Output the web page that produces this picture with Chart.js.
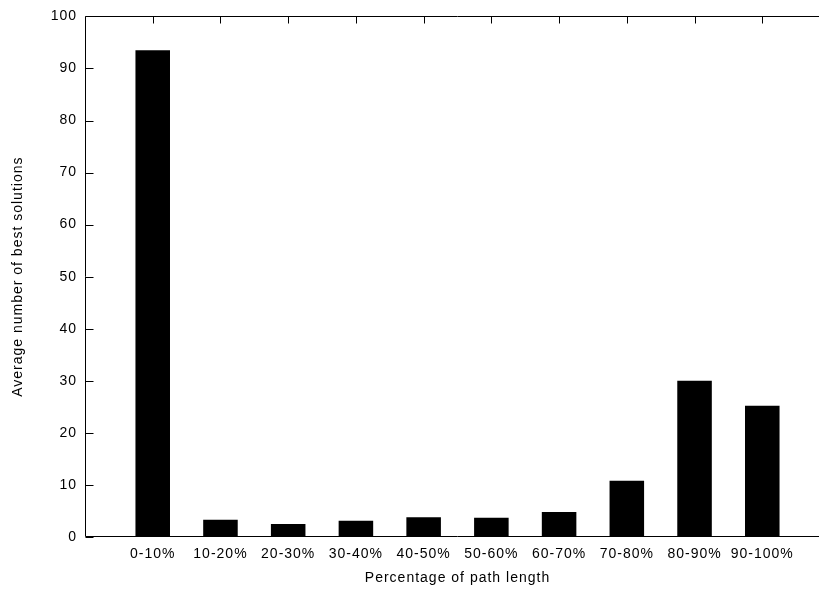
<!DOCTYPE html>
<html>
<head>
<meta charset="utf-8">
<script src="https://cdn.jsdelivr.net/npm/chart.js@4"></script>
<style>
html,body{margin:0;padding:0;background:#fff;overflow:hidden;}
#wrap{width:840px;height:589px;position:relative;}
</style>
</head>
<body>
<div id="wrap"><canvas id="c" width="840" height="589"></canvas></div>
<script>
const categories = ['0-10%','10-20%','20-30%','30-40%','40-50%','50-60%','60-70%','70-80%','80-90%','90-100%'];
const values = [93.5, 3.3, 2.5, 3.1, 3.8, 3.7, 4.8, 10.8, 30.0, 25.2];
const yTicks = [0,10,20,30,40,50,60,70,80,90,100];
const xTitle = 'Percentage of path length';
const yTitle = 'Average number of best solutions';

const FONT = "'Liberation Sans', Arial, Helvetica, sans-serif";

const spacing = {
  id: 'spacing',
  beforeLayout(chart){ chart.ctx.letterSpacing = '1px'; },
  beforeDraw(chart){ chart.ctx.letterSpacing = '1px'; }
};

const frame = {
  id: 'frame',
  afterDraw(chart){
    const {ctx, chartArea} = chart;
    const x = chart.scales.x, y = chart.scales.y;
    ctx.save();
    ctx.strokeStyle = '#000';
    ctx.lineWidth = 1;
    const L = Math.round(chartArea.left) + 0.5;
    const T = Math.round(chartArea.top) + 0.5;
    const B = Math.round(chartArea.bottom) - 0.5;
    const R = Math.round(chartArea.right) - 0.5;
    ctx.beginPath();
    ctx.moveTo(R, T); ctx.lineTo(L, T); ctx.lineTo(L, B); ctx.lineTo(R, B); ctx.lineTo(R, T);
    yTicks.forEach(v => {
      const py = Math.round(y.getPixelForValue(v)) + 0.5;
      ctx.moveTo(L, py); ctx.lineTo(L + 8, py);
      ctx.moveTo(R, py); ctx.lineTo(R - 8, py);
    });
    categories.forEach((c, i) => {
      const px = Math.round(x.getPixelForValue(i)) + 0.5;
      ctx.moveTo(px, T); ctx.lineTo(px, T + 7);
    });
    ctx.stroke();
    ctx.restore();
  }
};

new Chart(document.getElementById('c'), {
  type: 'bar',
  data: {
    datasets: [{
      data: values.map((v, i) => ({x: i, y: v})),
      backgroundColor: '#000',
      borderWidth: 0,
      categoryPercentage: 1.0,
      barPercentage: 0.51
    }]
  },
  options: {
    responsive: false,
    animation: false,
    events: [],
    layout: { padding: { left: 0, top: 15, right: 10, bottom: 0 } },
    plugins: { legend: { display: false }, tooltip: { enabled: false }, title: { display: false } },
    scales: {
      x: {
        type: 'linear',
        min: -1, max: 10,
        offset: false,
        grid: { display: false, drawTicks: false },
        border: { display: false },
        afterFit(s){ s.height = 52; },
        afterBuildTicks(s){ s.ticks = categories.map((c, i) => ({value: i})); },
        ticks: {
          autoSkip: false,
          maxRotation: 0,
          padding: 9,
          color: '#000',
          font: { family: FONT, size: 14 },
          callback: (v) => categories[v] !== undefined ? categories[v] : ''
        },
        title: {
          display: true,
          text: xTitle,
          color: '#000',
          font: { family: FONT, size: 14 },
          padding: { top: 0, bottom: 2 }
        }
      },
      y: {
        min: 0, max: 100,
        grid: { display: false, drawTicks: false },
        border: { display: false },
        afterFit(s){ s.width = 85; },
        afterBuildTicks(s){ s.ticks = yTicks.map(v => ({value: v})); },
        ticks: {
          padding: 8,
          color: '#000',
          font: { family: FONT, size: 14 }
        },
        title: {
          display: true,
          text: yTitle,
          color: '#000',
          font: { family: FONT, size: 14 },
          padding: { top: 10, bottom: 0 }
        }
      }
    }
  },
  plugins: [spacing, frame]
});
</script>
</body>
</html>
